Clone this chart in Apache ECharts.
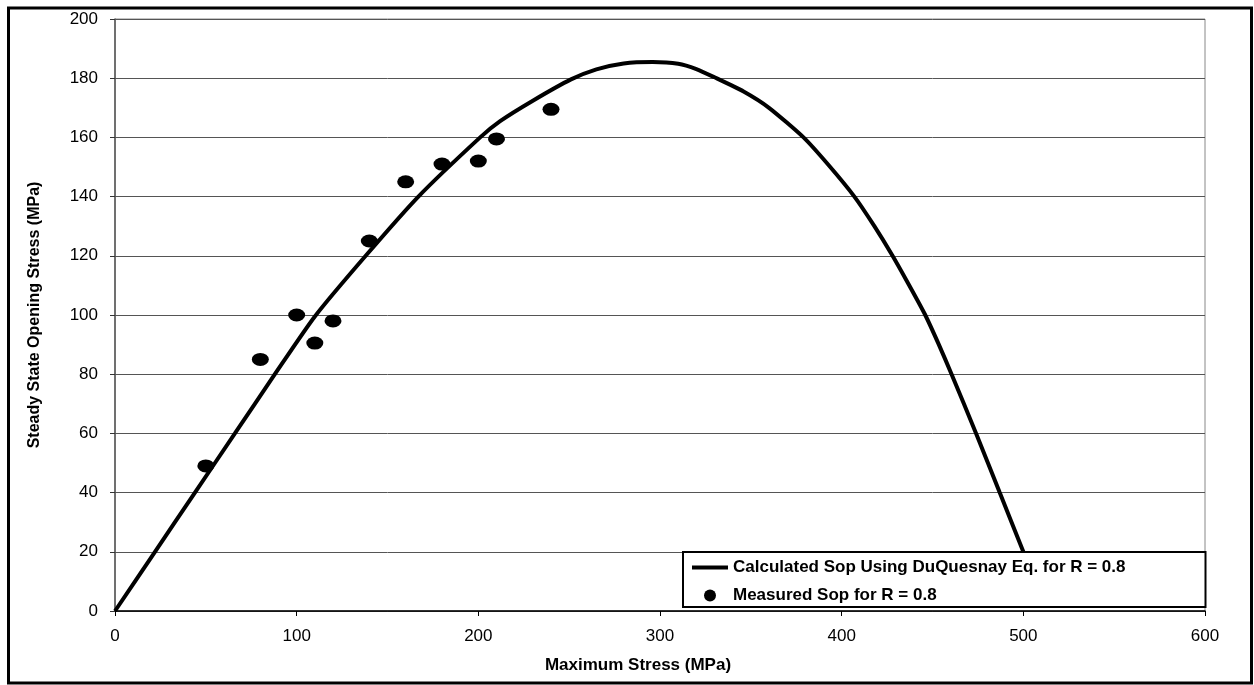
<!DOCTYPE html>
<html>
<head>
<meta charset="utf-8">
<script src="https://cdn.jsdelivr.net/npm/echarts@6/dist/echarts.min.js"></script>
<style>
  html, body { margin: 0; padding: 0; background: #fff; }
  #chart { width: 1254px; height: 685px; }
</style>
</head>
<body>
<div id="chart"></div>
<script>
// calculated Sop curve (DuQuesnay eq., R = 0.8)
var curveStress = [0, 22, 44, 66, 88, 110, 138, 167, 201, 212, 230, 251, 265, 280, 296,
                   310, 320, 330, 346, 360, 379, 393, 407, 418, 428, 437, 446, 453.5, 460.5, 474, 487, 500, 503];
var curveSop    = [0, 20, 40, 60, 80, 99.5, 120, 140, 160, 165.5, 172.4, 179.6, 183, 185, 185.5,
                   184.9, 183.1, 180.3, 175.5, 170, 160, 150.5, 140, 130, 120, 110.2, 100, 90, 80, 60, 40, 20, 15];

// measured Sop points
var measuredStress = [50, 80, 100, 110, 120, 140, 160, 180, 200, 210, 240];
var measuredSop    = [49, 85, 100, 90.5, 98, 125, 145, 151, 152, 159.5, 169.5];

var lineName = 'Calculated Sop Using DuQuesnay Eq. for R = 0.8';
var dotName = 'Measured Sop for R = 0.8';

var FONT = '"Liberation Sans", Arial, sans-serif';

function pairs(xs, ys) {
    var out = [];
    for (var i = 0; i < xs.length; i++) out.push([xs[i], ys[i]]);
    return out;
}

var chart = echarts.init(document.getElementById('chart'));
chart.setOption({
    animation: false,
    backgroundColor: '#fff',
    grid: {
        left: 115, right: 49, top: 19, bottom: 74,
        show: true, borderColor: '#888', borderWidth: 1, backgroundColor: 'transparent'
    },
    xAxis: {
        type: 'value', min: 0, max: 600, interval: 100,
        name: 'Maximum Stress (MPa)', nameLocation: 'middle', nameGap: 46,
        nameTextStyle: { fontFamily: FONT, fontSize: 17, fontWeight: 'bold', color: '#000', padding: [0, 44, 0, 0] },
        axisLine: { show: true, onZero: false, lineStyle: { color: '#000', width: 1.5 } },
        axisTick: { show: true, length: 5, lineStyle: { color: '#000' } },
        axisLabel: { margin: 17, fontFamily: FONT, fontSize: 17, color: '#000' },
        splitLine: { show: false }
    },
    yAxis: {
        type: 'value', min: 0, max: 200, interval: 20,
        name: 'Steady State Opening Stress (MPa)', nameLocation: 'middle', nameGap: 72,
        nameTextStyle: { fontFamily: FONT, fontSize: 16, fontWeight: 'bold', color: '#000' },
        axisLine: { show: true, onZero: false, lineStyle: { color: '#555', width: 1.5 } },
        axisTick: { show: true, length: 5, lineStyle: { color: '#333' } },
        axisLabel: { margin: 17, fontFamily: FONT, fontSize: 17, color: '#000' },
        splitLine: { show: true, lineStyle: { color: '#555', width: 1 } }
    },
    legend: {
        orient: 'vertical', left: 683, top: 552,
        padding: [7, 80, 3, 9],
        itemWidth: 36, itemHeight: 12, itemGap: 11,
        backgroundColor: '#fff', borderColor: '#000', borderWidth: 2,
        textStyle: { fontFamily: FONT, fontSize: 17, fontWeight: 'bold', color: '#000' },
        data: [
            { name: lineName, icon: 'path://M0,0H36V4H0Z' },
            { name: dotName }
        ]
    },
    series: [
        {
            name: lineName,
            type: 'line',
            data: pairs(curveStress, curveSop),
            symbol: 'none',
            smooth: 0.2,
            lineStyle: { color: '#000', width: 4 },
            itemStyle: { color: '#000' },
            z: 2
        },
        {
            name: dotName,
            type: 'scatter',
            data: pairs(measuredStress, measuredSop),
            symbol: 'circle',
            symbolSize: [17, 13],
            itemStyle: { color: '#000', opacity: 1 },
            z: 3
        }
    ],
    graphic: [
        {
            type: 'rect', silent: true, z: 100,
            shape: { x: 8.5, y: 8, width: 1243, height: 675 },
            style: { fill: null, stroke: '#000', lineWidth: 3 }
        }
    ]
});
</script>
</body>
</html>
